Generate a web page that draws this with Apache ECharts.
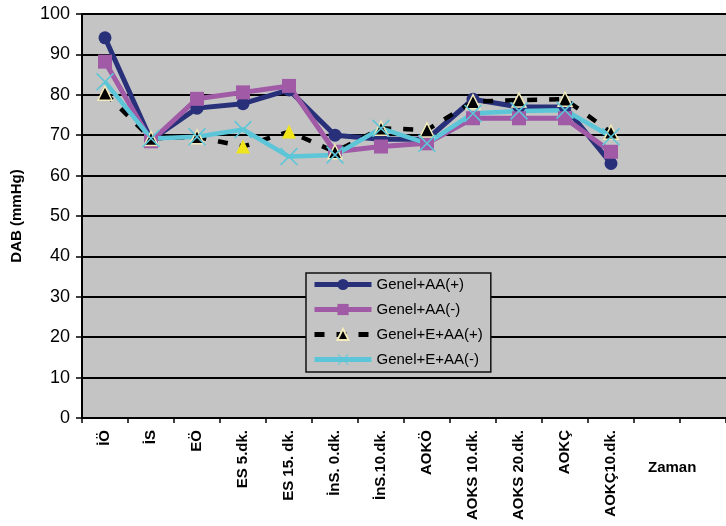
<!DOCTYPE html>
<html>
<head>
<meta charset="utf-8">
<script src="https://cdn.jsdelivr.net/npm/echarts@6/dist/echarts.min.js"></script>
<style>
  html, body { margin: 0; padding: 0; background: #fff; }
  #main { width: 726px; height: 526px; }
</style>
</head>
<body>
<div id="main"></div>
<script>
var categories = ['İÖ', 'İS', 'EÖ', 'ES 5.dk.', 'ES 15. dk.', 'İnS. 0.dk.', 'İnS.10.dk.',
    'AOKÖ', 'AOKS 10.dk.', 'AOKS 20.dk.', 'AOKÇ', 'AOKÇ10.dk.', '', ''];
var genelAAPlus = [94.1, 68.8, 76.7, 77.8, 81.2, 70, 69, 69, 78.9, 77, 77, 63];
var genelAAMinus = [88.2, 68.5, 79, 80.6, 82.2, 65.9, 67.2, 68, 74.2, 74.2, 74.2, 65.9];
var genelEAAPlus = [80.4, 69.2, 69.6, 67.2, 70.9, 65.9, 71.7, 71.3, 78.3, 78.7, 78.9, 70.7];
var genelEAAMinus = [83.2, 69.2, 69.6, 71.4, 64.7, 65.1, 71.7, 68, 75.4, 76, 76.2, 69.6];
var yellowPoints = [3, 4];

var chart = echarts.init(document.getElementById('main'));
var font = 'Liberation Sans, Arial, sans-serif';
// thin "x" marker
var crossPath = 'path://M0,1L1,0L8,7L15,0L16,1L9,8L16,15L15,16L8,9L1,16L0,15L7,8Z';

var triData = genelEAAPlus.map(function (v, i) {
    if (yellowPoints.indexOf(i) >= 0) {
        return {value: v, itemStyle: {color: '#f0e41a', borderColor: '#f0e41a', borderWidth: 0}};
    }
    return v;
});

var option = {
    animation: false,
    backgroundColor: '#fff',
    textStyle: {fontFamily: font},
    grid: {
        left: 82, top: 14, bottom: 108, right: -10,
        show: true, backgroundColor: '#c4c4c4', borderWidth: 0
    },
    legend: {
        orient: 'vertical',
        left: 306, top: 273,
        padding: [4, 8, 5, 6],
        backgroundColor: '#c4c4c4',
        borderColor: '#111',
        borderWidth: 1.5,
        itemWidth: 57,
        itemHeight: 14,
        itemGap: 10,
        lineStyle: {width: 5},
        textStyle: {fontFamily: font, fontSize: 15, color: '#000'},
        data: ['Genel+AA(+)', 'Genel+AA(-)', 'Genel+E+AA(+)', 'Genel+E+AA(-)']
    },
    xAxis: {
        type: 'category',
        data: categories,
        boundaryGap: true,
        axisLine: {lineStyle: {color: '#000', width: 2}},
        axisTick: {show: true, length: 5, lineStyle: {color: '#000', width: 1.5}},
        axisLabel: {
            rotate: 90, interval: 0, fontFamily: font, fontSize: 15,
            fontWeight: 'bold', color: '#000', margin: 12
        },
        splitLine: {show: false}
    },
    yAxis: {
        type: 'value',
        min: 0, max: 100, interval: 10,
        name: 'DAB (mmHg)',
        nameLocation: 'middle',
        nameGap: 58,
        nameTextStyle: {fontFamily: font, fontSize: 15, fontWeight: 'bold', color: '#000'},
        axisLine: {show: true, lineStyle: {color: '#000', width: 2}},
        axisTick: {show: true, length: 6, lineStyle: {color: '#000', width: 1.5}},
        axisLabel: {fontFamily: font, fontSize: 18, color: '#000', margin: 12},
        splitLine: {lineStyle: {color: '#000', width: 2}}
    },
    graphic: [{
        type: 'text',
        left: 648, top: 460,
        style: {text: 'Zaman', font: 'bold 15px ' + font, fill: '#000'}
    }],
    series: [
        {
            name: 'Genel+AA(+)', type: 'line', data: genelAAPlus,
            symbol: 'circle', symbolSize: 13,
            lineStyle: {color: '#28307a', width: 5},
            itemStyle: {color: '#28307a'}
        },
        {
            name: 'Genel+AA(-)', type: 'line', data: genelAAMinus,
            symbol: 'rect', symbolSize: 14,
            lineStyle: {color: '#a05aa6', width: 5},
            itemStyle: {color: '#a05aa6'}
        },
        {
            name: 'Genel+E+AA(+)', type: 'line', data: triData,
            symbol: 'triangle', symbolSize: 14,
            lineStyle: {color: '#000', width: 4.5, type: [10, 12]},
            itemStyle: {color: '#000', borderColor: '#f3ecba', borderWidth: 1.5}
        },
        {
            name: 'Genel+E+AA(-)', type: 'line', data: genelEAAMinus,
            symbol: crossPath, symbolSize: 18,
            lineStyle: {color: '#5cc6d8', width: 4.5},
            itemStyle: {color: '#5cc6d8'}
        }
    ]
};
chart.setOption(option);
</script>
</body>
</html>
